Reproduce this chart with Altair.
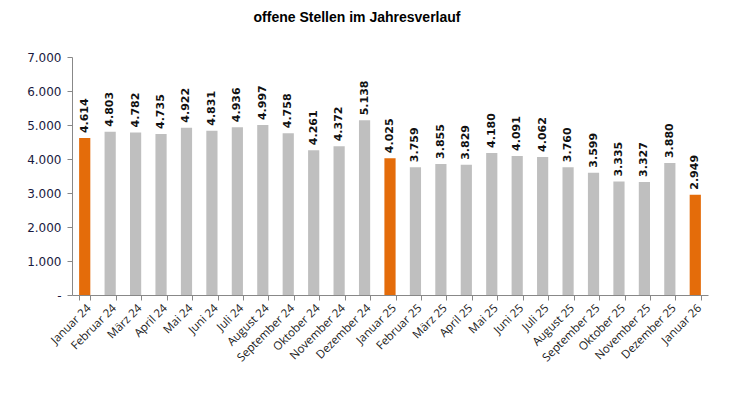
import altair as alt
import pandas as pd

months = ["Januar 24", "Februar 24", "März 24", "April 24", "Mai 24", "Juni 24", "Juli 24",
          "August 24", "September 24", "Oktober 24", "November 24", "Dezember 24",
          "Januar 25", "Februar 25", "März 25", "April 25", "Mai 25", "Juni 25", "Juli 25",
          "August 25", "September 25", "Oktober 25", "November 25", "Dezember 25", "Januar 26"]
values = [4614, 4803, 4782, 4735, 4922, 4831, 4936, 4997, 4758, 4261, 4372, 5138,
          4025, 3759, 3855, 3829, 4180, 4091, 4062, 3760, 3599, 3335, 3327, 3880, 2949]
y_ticks = [0, 1000, 2000, 3000, 4000, 5000, 6000, 7000]

df = pd.DataFrame({"Monat": months, "Wert": values})
df["Typ"] = ["Januar" if m.startswith("Januar") else "Andere" for m in months]
df["Label"] = [f"{v:,}".replace(",", ".") for v in values]

x = alt.X("Monat:N", sort=months, title=None,
          scale=alt.Scale(paddingInner=0.56, paddingOuter=0.28),
          axis=alt.Axis(labelAngle=-45, labelAlign="right", labelBaseline="top",
                        tickBand="extent", tickSize=5, labelFontSize=11.5,
                        labelFont="Open Sans", labelColor="#1a1a1a", labelPadding=2,
                        labelOverlap=False,
                        domainColor="#888888", tickColor="#888888"))
y = alt.Y("Wert:Q", title=None,
          scale=alt.Scale(domain=[0, 7000], nice=False, zero=True),
          axis=alt.Axis(values=y_ticks, tickCount=8,
                        labelExpr="datum.value == 0 ? '-' : replace(format(datum.value, ',.0f'), ',', '.')",
                        grid=False, tickSize=5, labelFontSize=12, labelFont="DejaVu Sans",
                        labelColor="#1a1a40", labelPadding=6, labelOverlap=False,
                        domainColor="#888888", tickColor="#888888"))

base = alt.Chart(df).encode(x=x, y=y)

bars = base.mark_bar().encode(
    color=alt.Color("Typ:N", scale=alt.Scale(domain=["Januar", "Andere"],
                                             range=["#e46c0a", "#bfbfbf"]), legend=None),
)

labels = base.mark_text(angle=270, align="left", baseline="middle", dx=5,
                        fontWeight="bold", fontSize=11, font="DejaVu Sans",
                        color="#111111").encode(text="Label:N")

chart = (bars + labels).properties(
    width=636, height=238,
    title=alt.TitleParams("offene Stellen im Jahresverlauf", fontSize=14, fontWeight="bold",
                          font="Liberation Sans", color="#000000", offset=26, dx=-33),
    padding={"left": 64, "top": 49, "right": 25, "bottom": 93},
    autosize=alt.AutoSizeParams(type="none"),
).configure_view(stroke=None)

chart.save("out.html", embed_options={"renderer": "svg", "actions": False})
